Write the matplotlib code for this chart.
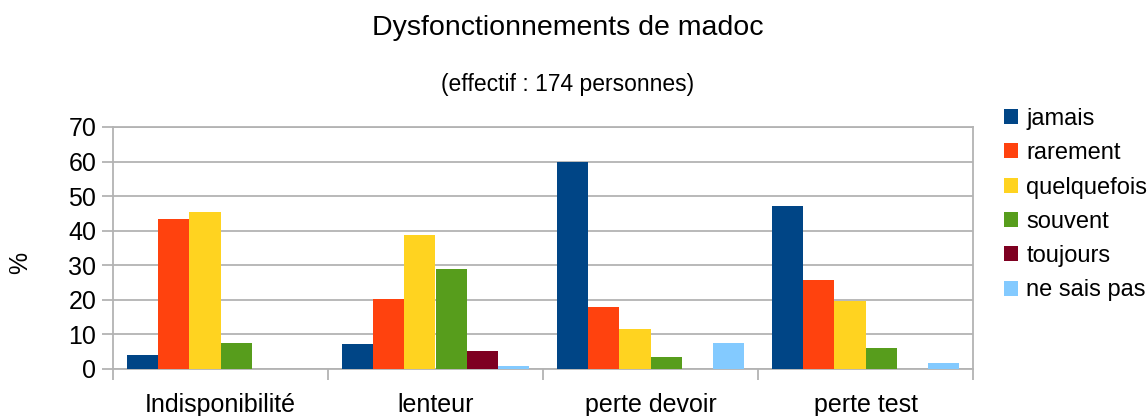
import matplotlib
matplotlib.use("Agg")
import matplotlib.pyplot as plt
import numpy as np
from matplotlib.patches import Patch

plt.rcParams['font.family'] = ['Liberation Sans', 'DejaVu Sans']

categories = ["Indisponibilité", "lenteur", "perte devoir", "perte test"]
series = ["jamais", "rarement", "quelquefois", "souvent", "toujours", "ne sais pas"]
values = {
    "jamais":      [4.0, 7.1, 59.8, 47.1],
    "rarement":    [43.3, 20.2, 17.8, 25.7],
    "quelquefois": [45.3, 38.7, 11.5, 19.6],
    "souvent":     [7.4, 28.8, 3.6, 6.0],
    "toujours":    [0.0, 5.1, 0.0, 0.0],
    "ne sais pas": [0.0, 0.8, 7.4, 1.8],
}
colors = ["#004586", "#ff420e", "#ffd320", "#579d1c", "#7e0021", "#83caff"]
yticks = [0, 10, 20, 30, 40, 50, 60, 70]

fig = plt.figure(figsize=(11.47, 4.16), dpi=100)
ax = fig.add_axes([113/1147, 1-369/416, (973-113)/1147, (369-127)/416])

n = len(series)
bw = 0.1442
x = np.arange(len(categories))
for i, s in enumerate(series):
    offs = (i - (n - 1) / 2) * bw
    ax.bar(x + offs, values[s], width=bw, color=colors[i], zorder=3, linewidth=0)

ax.set_xlim(-0.5, len(categories) - 0.5)
ax.set_ylim(0, 70)
ax.set_yticks(yticks)
ax.set_yticklabels([str(v) for v in yticks], fontsize=18)
ax.set_xticks(x)
ax.set_xticklabels(categories, fontsize=18)
ax.set_xticks(np.arange(len(categories) + 1) - 0.5, minor=True)
ax.tick_params(axis='x', which='major', length=0, pad=17)
ax.tick_params(axis='x', which='minor', length=8, color='#b3b3b3', width=1.3)
ax.tick_params(axis='y', length=8, color='#b3b3b3', width=1.3, pad=4)
ax.grid(axis='y', color='#b3b3b3', linewidth=1.3, zorder=0)
for sp in ax.spines.values():
    sp.set_color('#b3b3b3')
    sp.set_linewidth(1.3)

ax.set_ylabel("%", fontsize=18)
ax.yaxis.label.set_verticalalignment('center')
ax.yaxis.set_label_coords((20 - 113) / 860, (369 - 263) / 242)

fig.text(568/1147, 1-28/416, "Dysfonctionnements de madoc", fontsize=20.5,
         ha='center', va='center')
fig.text(568/1147, 1-85/416, "(effectif : 174 personnes)", fontsize=16.5,
         ha='center', va='center')

handles = [Patch(facecolor=c, edgecolor='none') for c in colors]
leg = fig.legend(handles, series, loc='upper left',
                 bbox_to_anchor=(1004/1147, 1-108/416), frameon=False,
                 fontsize=17, handlelength=0.6, handleheight=0.6,
                 handletextpad=0.35, labelspacing=0.52, borderaxespad=0,
                 borderpad=0)

fig.savefig("out.png", dpi=100)
